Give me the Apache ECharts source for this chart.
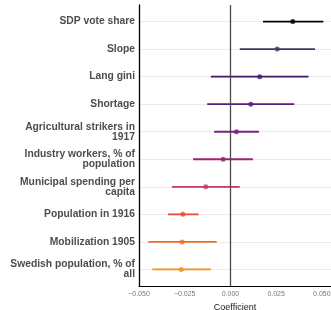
<!DOCTYPE html>
<html><head><meta charset="utf-8">
<script src="https://cdn.jsdelivr.net/npm/echarts@6/dist/echarts.min.js"></script>
<style>html,body{margin:0;padding:0;background:#fff}#c{width:331px;height:310px}</style>
</head><body><div id="c"></div>
<script>
var labels = ["SDP vote share","Slope","Lang gini","Shortage","Agricultural strikers in\n1917","Industry workers, % of\npopulation","Municipal spending per\ncapita","Population in 1916","Mobilization 1905","Swedish population, % of\nall"];
var estimates = [0.0341, 0.0256, 0.0160, 0.0111, 0.0033, -0.0040, -0.0135, -0.0260, -0.0264, -0.0269];
var lower = [0.0178, 0.0051, -0.0107, -0.0127, -0.0089, -0.0204, -0.0320, -0.0342, -0.0449, -0.0427];
var upper = [0.0508, 0.0463, 0.0427, 0.0349, 0.0156, 0.0123, 0.0051, -0.0174, -0.0075, -0.0107];
var palette = ["#000000","#3d3a66","#42176c","#5a1a7e","#7b2080","#9e206f","#c13b5d","#e04e3b","#f06b2b","#fb8d0f"];

var idx = labels.map(function(_, i){ return i; });
var font = '"Liberation Sans", Arial, sans-serif';
var chart = echarts.init(document.getElementById('c'));
chart.setOption({
  animation: false,
  grid: {left: 139, right: 0, top: 5, bottom: 24, containLabel: false, outerBoundsMode: 'none'},
  xAxis: {
    type: 'value', min: -0.05, max: 0.055, interval: 0.025,
    axisLine: {show: true, onZero: false, lineStyle: {color: '#000', width: 1.2}},
    axisTick: {show: false},
    splitLine: {show: false},
    axisLabel: {showMaxLabel: false, fontSize: 7, color: '#777777', fontFamily: font, margin: 5,
      formatter: function(v){ return (v < 0 ? '\u2212' : '') + Math.abs(v).toFixed(3); }},
    name: 'Coefficient', nameLocation: 'middle', nameGap: 15,
    nameTextStyle: {fontSize: 9, color: '#1a1a1a', fontFamily: font}
  },
  yAxis: {
    type: 'value', inverse: true, min: -0.6, max: 9.6,
    axisLine: {show: true, onZero: false, lineStyle: {color: '#000', width: 1.3}},
    axisTick: {show: false, customValues: idx},
    splitLine: {show: true, lineStyle: {color: '#ebebeb', width: 1}},
    axisLabel: {customValues: idx, fontSize: 10.3, fontWeight: 'bold', color: '#4d4d4d', fontFamily: font,
      margin: 4, lineHeight: 10, align: 'right',
      formatter: function(v){ return labels[Math.round(v)] || ''; }}
  },
  series: [
    {
      type: 'custom', z: 2,
      data: idx.map(function(i){ return [lower[i], upper[i], i]; }),
      renderItem: function(params, api){
        var a = api.coord([api.value(0), api.value(2)]);
        var b = api.coord([api.value(1), api.value(2)]);
        return {type: 'line', shape: {x1: a[0], y1: a[1], x2: b[0], y2: b[1]},
          style: {stroke: palette[params.dataIndex], lineWidth: 1.8}};
      },
      encode: {x: [0, 1], y: 2}
    },
    {
      type: 'scatter', z: 3, symbolSize: 5,
      data: idx.map(function(i){ return {value: [estimates[i], i], itemStyle: {color: palette[i]}}; }),
      markLine: {silent: true, symbol: 'none', label: {show: false},
        lineStyle: {color: '#4a4a4a', width: 1.3, type: 'solid'},
        data: [{xAxis: 0}]}
    }
  ]
});
</script></body></html>
